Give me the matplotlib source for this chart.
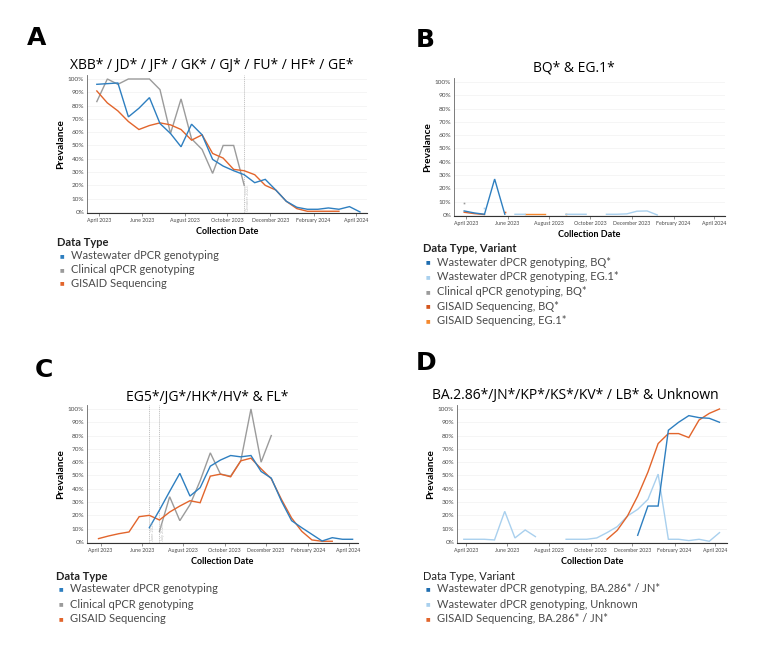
import numpy as np
import pandas as pd
import matplotlib
matplotlib.use("Agg")
import matplotlib.pyplot as plt
import matplotlib.dates as mdates

plt.rcParams['font.family'] = ['Lato', 'DejaVu Sans']

nan = np.nan
# collection dates (roughly every two weeks)
dates = pd.date_range("2023-03-29", periods=26, freq="15D")

# A: XBB* group
a_ww = [96, 96.5, 97, 71.5, 78, 86, 66.5, 59, 49, 66, 58, 39.5, 34.5, 31, 28, 22,
        24.5, 16.5, 8, 3.5, 2, 2, 3, 2, 4, 0]
a_clin = [83, 100, 96, 100, 100, 100, 92, 59, 85, 55, 47, 29, 50, 50, 20] + [nan] * 11
a_gis = [91, 82, 76, 68, 62, 65, 67, 65.5, 62, 54, 58, 44, 40.5, 32, 31, 28, 20,
         16.5, 8, 2.5, 0.5, 0.5, 0.5, 0.5, nan, nan]

# B: BQ* & EG.1*
b_ww_bq = [3, 1.5, 0.5, 27, 0.5] + [nan] * 21
b_ww_eg1 = [nan, nan, 5.5, nan, nan, 0.5, 0.5, nan, nan, nan, 0.5, 0.5, 0.5, nan,
            0.5, 0.5, 0.8, 2.8, 3, 0] + [nan] * 6
b_clin_bq = [9] + [nan] * 25
b_gis_bq = [2, 1, 0.3, nan, 2.5] + [nan] * 21
b_gis_eg1 = [nan] * 6 + [0.8, 0.8, 0.8, nan, 1] + [nan] * 15

# C: EG5* group
c_ww = [nan] * 5 + [10.7, 24, 38, 51.6, 34.5, 40.8, 57, 61.6, 65, 64, 65, 53, 48,
                    30.7, 16, 10.7, 5.7, 0.7, 3.2, 2, 2]
c_clin = [nan] * 6 + [8, 34, 16, 28, 46, 67, 51, 49.5, 61, 100, 60, 80] + [nan] * 8
c_gis = [2.5, 4.5, 6.2, 7.5, 19, 20, 16.5, 22.5, 27, 31, 29.5, 49.5, 51, 49, 61, 63,
         55, 47.5, 32, 18, 8, 1.5, 0.5, 0.5, nan, nan]

# D: BA.2.86* group & unknown
d_ww_jn = [nan] * 17 + [5, 27, 27, 84, 90, 95, 93.5, 93, 90]
d_ww_unk = [2, 2, 2, 1.5, 23, 3, 9, 4, nan, nan, 2, 2, 2, 3, 7, 11.5, 19.5, 24.5, 32,
            51, 2, 2, 1, 2, 0.5, 7]
d_gis_jn = [nan] * 14 + [2, 8.7, 19.5, 34.5, 52.5, 74, 81.5, 81.5, 78.5, 91.7, 96.7, 100]

BLUE = "#2E7FC0"
LBLUE = "#A9D0EE"
GRAY = "#9B9B9B"
ORANGE = "#E2652C"
LORANGE = "#F5892E"
TXT = "#4a4a4a"

W, H = 765, 652
fig = plt.figure(figsize=(W / 100, H / 100), dpi=100)


def px_axes(l, t, r, b):
    return fig.add_axes([l / W, 1 - b / H, (r - l) / W, (b - t) / H])


def draw(ax, vals, color, lw=1.0):
    v = np.array(vals, dtype=float)
    ax.plot(dates, v, color=color, lw=lw, solid_joinstyle="miter")
    ok = ~np.isnan(v)
    prev = np.r_[False, ok[:-1]]
    nxt = np.r_[ok[1:], False]
    iso = ok & ~prev & ~nxt
    if iso.any():
        ax.plot(dates[iso], v[iso], "s", color=color, ms=1.2, mew=0)


def style(ax, x0, x1):
    ax.set_xlim(pd.Timestamp(x0), pd.Timestamp(x1))
    ax.set_ylim(-0.8, 103)
    ax.set_yticks(range(0, 101, 10))
    ax.set_yticklabels([f"{t}%" for t in range(0, 101, 10)])
    ax.xaxis.set_major_locator(mdates.MonthLocator(bymonth=[2, 4, 6, 8, 10, 12]))
    ax.xaxis.set_major_formatter(mdates.DateFormatter("%B %Y"))
    ax.tick_params(axis="x", labelsize=3.8, length=2, width=0.5, pad=1.5,
                   colors="#666666", labelcolor=TXT)
    ax.tick_params(axis="y", labelsize=4.6, length=0, pad=2, labelcolor=TXT)
    for s in ["top", "right"]:
        ax.spines[s].set_visible(False)
    ax.spines["left"].set_color("#666666")
    ax.spines["left"].set_linewidth(0.6)
    ax.spines["bottom"].set_color("#333333")
    ax.spines["bottom"].set_linewidth(0.8)
    ax.grid(axis="y", color="#f1f1f1", lw=0.5)
    ax.set_axisbelow(True)
    ax.set_ylabel("Prevalance", fontsize=7.3, fontweight="bold", labelpad=2)
    ax.set_xlabel("Collection Date", fontsize=6.5, fontweight="bold", labelpad=3)


def refline(ax, day, label):
    ax.axvline(pd.Timestamp(day), color="#bdbdbd", lw=0.6, ls=(0, (1.5, 1)))
    ax.text(pd.Timestamp(day) + pd.Timedelta(days=2), 1, label, rotation=90,
            fontsize=3, color="#bdbdbd", ha="left", va="bottom")


def legend(x, y, header, items, step, bold=True):
    fig.text(x / W, 1 - y / H, header, fontsize=8, fontweight="bold" if bold else "normal",
             color="#222222", ha="left", va="center")
    for i, (label, color) in enumerate(items):
        yy = y + 13 + step * i
        fig.text((x + 5) / W, 1 - yy / H, "■", fontsize=3.5, color=color,
                 ha="center", va="center", family="DejaVu Sans")
        fig.text((x + 14) / W, 1 - yy / H, label, fontsize=8, color=TXT,
                 ha="left", va="center")


def letter(x, y, s):
    fig.text(x / W, 1 - y / H, s, fontsize=18, fontweight="bold", family="DejaVu Sans",
             ha="center", va="center")


def title(x, y, s):
    fig.text(x / W, 1 - y / H, s, fontsize=10, ha="center", va="center",
             family=["Open Sans", "DejaVu Sans"])


# Panel A
ax = px_axes(87, 75, 367, 213)
style(ax, "2023-03-15", "2024-04-17")
refline(ax, "2023-10-25", "October 2023")
draw(ax, a_clin, GRAY)
draw(ax, a_gis, ORANGE)
draw(ax, a_ww, BLUE)
letter(37, 38, "A")
title(212, 66, "XBB* / JD* / JF* / GK* / GJ* / FU* / HF* / GE*")
legend(57, 243, "Data Type", [("Wastewater dPCR genotyping", BLUE),
                              ("Clinical qPCR genotyping", GRAY),
                              ("GISAID Sequencing", ORANGE)], 13.5)

# Panel B
ax = px_axes(454, 78, 725, 216)
style(ax, "2023-03-14", "2024-04-17")
draw(ax, b_gis_eg1, LORANGE)
draw(ax, b_gis_bq, ORANGE)
draw(ax, b_clin_bq, GRAY)
draw(ax, b_ww_eg1, LBLUE)
draw(ax, b_ww_bq, BLUE)
letter(425, 40, "B")
title(574, 68, "BQ* & EG.1*")
legend(423, 249, "Data Type, Variant", [("Wastewater dPCR genotyping, BQ*", "#1F6DB0"),
                                        ("Wastewater dPCR genotyping, EG.1*", LBLUE),
                                        ("Clinical qPCR genotyping, BQ*", GRAY),
                                        ("GISAID Sequencing, BQ*", "#D4561E"),
                                        ("GISAID Sequencing, EG.1*", LORANGE)], 14.7)

# Panel C
ax = px_axes(87, 405, 358, 543)
style(ax, "2023-03-12", "2024-04-15")
refline(ax, "2023-06-12", "June 2023")
refline(ax, "2023-06-27", "July 2023")
draw(ax, c_clin, GRAY)
draw(ax, c_gis, ORANGE)
draw(ax, c_ww, BLUE)
letter(44, 370, "C")
title(207, 397, "EG5*/JG*/HK*/HV* & FL*")
legend(56, 576, "Data Type", [("Wastewater dPCR genotyping", BLUE),
                              ("Clinical qPCR genotyping", GRAY),
                              ("GISAID Sequencing", ORANGE)], 15)

# Panel D
ax = px_axes(457, 405, 727, 543)
style(ax, "2023-03-19", "2024-04-18")
draw(ax, d_ww_unk, LBLUE)
draw(ax, d_gis_jn, ORANGE)
draw(ax, d_ww_jn, BLUE)
letter(426, 363, "D")
title(575, 396, "BA.2.86*/JN*/KP*/KS*/KV* / LB* & Unknown")
legend(423, 576, "Data Type, Variant", [("Wastewater dPCR genotyping, BA.286* / JN*", "#1F6DB0"),
                                        ("Wastewater dPCR genotyping, Unknown", LBLUE),
                                        ("GISAID Sequencing, BA.286* / JN*", ORANGE)], 15,
       bold=False)

fig.savefig("out.png", dpi=100)
